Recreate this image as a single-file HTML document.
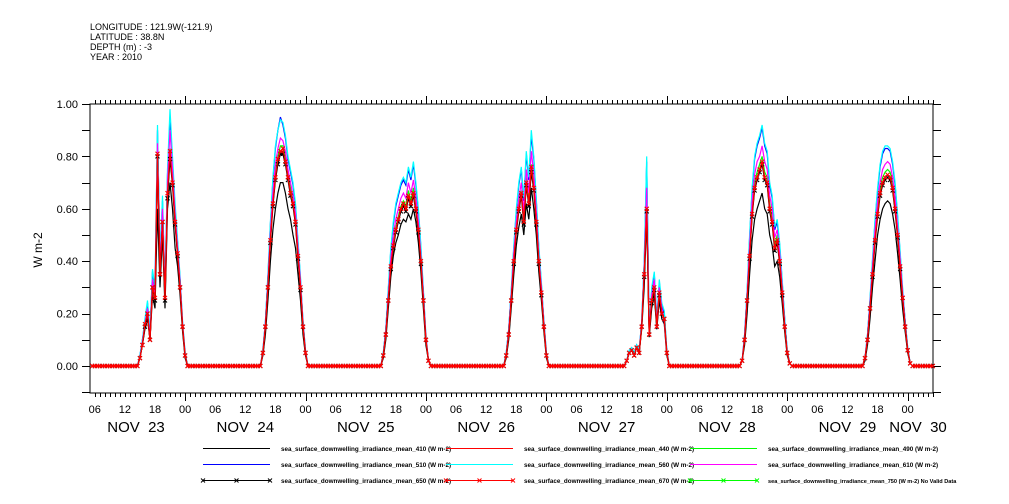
<!DOCTYPE html>
<html><head><meta charset="utf-8"><style>
html,body{margin:0;padding:0;background:#fff;}
svg{display:block;font-family:"Liberation Sans",sans-serif;}
</style></head><body>
<svg id="chart" width="1009" height="504" viewBox="0 0 1009 504" xmlns="http://www.w3.org/2000/svg">
<g font-size="9" fill="#000">
<text x="90" y="30">LONGITUDE : 121.9W(-121.9)</text>
<text x="90" y="40">LATITUDE : 38.8N</text>
<text x="90" y="50">DEPTH (m) : -3</text>
<text x="90" y="60">YEAR : 2010</text>
</g>
<g id="axes"></g>
<g id="series"></g>
<g id="legend"></g>
<text transform="translate(42,250) rotate(-90)" text-anchor="middle" font-size="12">W m-2</text>
</svg>
<script>
// Data: 30-minute values from 14:00 to 01:30 (next day) for each day Nov 23..29; zero elsewhere
const days = [23,24,25,26,27,28,29];
const yTicks = [0,0.2,0.4,0.6,0.8,1.0];
const yTickLabels = ["0.00","0.20","0.40","0.60","0.80","1.00"];
const dayLabels = ["NOV 23","NOV 24","NOV 25","NOV 26","NOV 27","NOV 28","NOV 29","NOV 30"];
const black410 = [
[0,0,.03,.08,.14,.18,.1,.27,.22,.6,.3,.5,.22,.6,.7,.6,.45,.38,.27,.13,.03,0,0,0],
[0,0,0,.04,.12,.25,.4,.52,.6,.66,.7,.7,.66,.6,.56,.5,.45,.35,.25,.12,.04,0,0,0],
[0,0,0,.03,.1,.22,.34,.42,.47,.5,.54,.56,.55,.58,.56,.6,.55,.47,.36,.22,.08,.02,0,0],
[0,0,0,0,.03,.1,.22,.35,.46,.53,.58,.5,.62,.56,.68,.6,.5,.36,.25,.13,.03,0,0,0],
[0,0,0,0,.02,.05,.06,.04,.07,.05,.14,.3,.58,.11,.22,.27,.14,.25,.18,.16,.04,0,0,0],
[0,0,.02,.08,.2,.35,.48,.56,.6,.63,.66,.6,.58,.5,.46,.38,.4,.34,.24,.13,.04,.01,0,0],
[0,0,0,.02,.08,.18,.3,.4,.5,.56,.6,.62,.63,.62,.58,.52,.43,.33,.22,.13,.05,.01,0,0]];
const red440 = [
[0,0,.03,.08,.15,.2,.1,.3,.25,.8,.35,.55,.25,.65,.8,.7,.55,.42,.3,.15,.04,0,0,0],
[0,0,0,.05,.15,.3,.48,.62,.72,.78,.82,.82,.78,.72,.66,.62,.55,.42,.3,.15,.05,0,0,0],
[0,0,0,.04,.12,.25,.38,.46,.52,.56,.6,.62,.6,.65,.62,.66,.6,.52,.4,.25,.1,.02,0,0],
[0,0,0,0,.04,.12,.25,.4,.52,.6,.66,.55,.7,.62,.75,.68,.55,.4,.28,.15,.04,0,0,0],
[0,0,0,0,.02,.05,.06,.04,.07,.05,.15,.35,.6,.12,.25,.3,.15,.28,.2,.18,.05,0,0,0],
[0,0,.02,.1,.25,.42,.58,.68,.72,.75,.78,.72,.7,.6,.55,.45,.48,.4,.28,.15,.05,.01,0,0],
[0,0,0,.03,.1,.22,.35,.48,.58,.66,.7,.72,.73,.72,.68,.6,.5,.38,.26,.15,.06,.01,0,0]];
const cyan560 = [
[0,0,.04,.1,.18,.25,.13,.37,.3,.92,.42,.65,.3,.75,.98,.8,.62,.48,.34,.17,.05,0,0,0],
[0,0,0,.06,.17,.35,.55,.72,.84,.9,.94,.93,.88,.8,.75,.7,.62,.48,.34,.17,.06,0,0,0],
[0,0,0,.05,.14,.3,.45,.55,.62,.66,.7,.72,.7,.76,.72,.78,.7,.6,.46,.29,.12,.02,0,0],
[0,0,0,0,.05,.14,.29,.46,.6,.7,.76,.64,.82,.72,.9,.8,.64,.46,.32,.17,.05,0,0,0],
[0,0,0,0,.02,.06,.07,.05,.08,.06,.17,.4,.8,.14,.3,.36,.18,.33,.24,.21,.06,0,0,0],
[0,0,.02,.12,.29,.5,.68,.8,.85,.88,.92,.85,.82,.7,.65,.53,.56,.47,.33,.18,.06,.01,0,0],
[0,0,0,.03,.12,.26,.41,.56,.68,.77,.82,.84,.84,.83,.78,.7,.58,.44,.3,.17,.07,.01,0,0]];
const blue510 = [
[0,0,.04,.1,.17,.24,.12,.36,.29,.9,.41,.63,.29,.73,.95,.78,.6,.47,.33,.16,.05,0,0,0],
[0,0,0,.06,.17,.34,.54,.71,.83,.9,.95,.92,.87,.79,.74,.69,.61,.47,.33,.17,.06,0,0,0],
[0,0,0,.05,.14,.29,.44,.54,.61,.65,.69,.71,.69,.75,.71,.77,.69,.59,.45,.28,.11,.02,0,0],
[0,0,0,0,.05,.14,.28,.45,.59,.69,.75,.63,.81,.71,.88,.79,.63,.45,.31,.17,.05,0,0,0],
[0,0,0,0,.02,.06,.07,.05,.08,.06,.17,.39,.78,.14,.29,.35,.18,.32,.23,.2,.06,0,0,0],
[0,0,.02,.12,.28,.49,.67,.79,.84,.87,.91,.84,.81,.69,.64,.52,.55,.46,.32,.18,.06,.01,0,0],
[0,0,0,.03,.12,.25,.4,.55,.67,.76,.81,.83,.83,.82,.77,.69,.57,.43,.29,.17,.07,.01,0,0]];
const magenta610 = [
[0,0,.03,.09,.16,.22,.11,.33,.27,.85,.38,.6,.28,.7,.9,.75,.58,.45,.32,.16,.04,0,0,0],
[0,0,0,.05,.16,.32,.51,.66,.77,.83,.87,.86,.82,.75,.7,.65,.58,.45,.32,.16,.05,0,0,0],
[0,0,0,.04,.13,.27,.41,.5,.56,.6,.64,.66,.64,.7,.66,.71,.64,.55,.42,.27,.11,.02,0,0],
[0,0,0,0,.04,.13,.27,.43,.55,.64,.7,.59,.75,.66,.82,.73,.59,.42,.3,.16,.04,0,0,0],
[0,0,0,0,.02,.05,.06,.04,.07,.05,.16,.37,.68,.13,.27,.33,.16,.3,.22,.17,.05,0,0,0],
[0,0,.02,.11,.27,.46,.63,.73,.78,.8,.84,.78,.75,.65,.6,.49,.52,.43,.3,.16,.05,.01,0,0],
[0,0,0,.03,.11,.24,.38,.52,.63,.7,.75,.77,.78,.77,.72,.64,.53,.41,.28,.16,.06,.01,0,0]];
const green490 = [
[0,0,.03,.08,.16,.21,.11,.31,.26,.82,.36,.57,.26,.67,.83,.72,.56,.43,.31,.15,.04,0,0,0],
[0,0,0,.05,.15,.31,.49,.63,.74,.8,.84,.84,.8,.73,.68,.63,.56,.43,.31,.15,.05,0,0,0],
[0,0,0,.04,.12,.26,.39,.47,.53,.57,.61,.63,.61,.67,.63,.68,.61,.53,.41,.26,.1,.02,0,0],
[0,0,0,0,.04,.12,.26,.41,.53,.62,.67,.56,.72,.63,.77,.7,.56,.41,.29,.15,.04,0,0,0],
[0,0,0,0,.02,.05,.06,.04,.07,.05,.15,.36,.62,.12,.26,.31,.15,.29,.21,.18,.05,0,0,0],
[0,0,.02,.1,.26,.43,.6,.7,.74,.77,.8,.74,.72,.62,.56,.46,.5,.41,.29,.15,.05,.01,0,0],
[0,0,0,.03,.1,.23,.36,.49,.6,.68,.72,.74,.75,.74,.7,.62,.51,.39,.27,.15,.06,.01,0,0]];
const black650 = [
[0,0,.03,.08,.15,.2,.1,.3,.25,.8,.35,.55,.25,.64,.79,.69,.54,.42,.3,.15,.04,0,0,0],
[0,0,0,.05,.15,.3,.47,.61,.71,.77,.81,.81,.77,.71,.65,.61,.54,.41,.29,.15,.05,0,0,0],
[0,0,0,.04,.12,.25,.37,.45,.51,.55,.59,.61,.59,.64,.61,.65,.59,.51,.39,.25,.1,.02,0,0],
[0,0,0,0,.04,.12,.25,.39,.51,.59,.65,.54,.69,.61,.74,.67,.54,.39,.27,.15,.04,0,0,0],
[0,0,0,0,.02,.05,.06,.04,.07,.05,.15,.34,.59,.12,.24,.29,.15,.27,.2,.18,.05,0,0,0],
[0,0,.02,.1,.25,.41,.57,.67,.71,.74,.77,.71,.69,.59,.54,.44,.47,.39,.27,.15,.05,.01,0,0],
[0,0,0,.03,.1,.22,.34,.47,.57,.65,.69,.71,.72,.71,.67,.59,.49,.37,.26,.15,.06,.01,0,0]];
const red670 = [
[0,0,.03,.08,.16,.2,.1,.3,.26,.81,.35,.55,.26,.66,.82,.7,.55,.43,.3,.15,.04,0,0,0],
[0,0,0,.05,.15,.3,.48,.62,.72,.79,.82,.83,.78,.72,.66,.62,.55,.42,.3,.15,.05,0,0,0],
[0,0,0,.04,.12,.25,.38,.46,.52,.56,.6,.62,.6,.65,.62,.66,.6,.52,.4,.25,.1,.02,0,0],
[0,0,0,0,.04,.12,.25,.4,.52,.6,.66,.55,.7,.62,.76,.68,.55,.4,.28,.15,.04,0,0,0],
[0,0,0,0,.02,.05,.06,.04,.07,.05,.15,.35,.6,.12,.25,.3,.15,.28,.2,.18,.05,0,0,0],
[0,0,.02,.1,.25,.42,.58,.68,.72,.75,.78,.72,.7,.6,.55,.45,.48,.4,.28,.15,.05,.01,0,0],
[0,0,0,.03,.1,.22,.35,.48,.58,.66,.7,.72,.73,.72,.68,.6,.5,.38,.26,.15,.06,.01,0,0]];

const NS="http://www.w3.org/2000/svg";
const L=90,R=933,T=104,B=393;
const H0=5.05, H1=173.05;
function X(h){return L+(h-H0)*(R-L)/(H1-H0);}
function Y(v){return 366-v*262;}
function mk(tag,attrs,parent){const e=document.createElementNS(NS,tag);for(const k in attrs)e.setAttribute(k,attrs[k]);parent.appendChild(e);return e;}
const axes=document.getElementById('axes');
const fr=mk('rect',{x:L,y:T,width:R-L,height:B-T,fill:'none',stroke:'#000','stroke-width':1},axes);


for(let h=6;h<=173;h++){
  const x=Math.round(X(h))+0.5;
  const major=(h%24===0);
  const len=major?8:4;
  const tb=mk('line',{x1:x,x2:x,y1:B,y2:B+len,stroke:'#000'},axes);
  
  
  const tt=mk('line',{x1:x,x2:x,y1:T,y2:T-len,stroke:'#000'},axes);
  
  
  if(h%6===0){
    const hl=mk('text',{x:X(h),y:413,'text-anchor':'middle','font-size':11},axes);
    hl.textContent=String(h%24).padStart(2,'0');
    
    
  }
}
dayLabels.forEach((d,i)=>{
  let x=X(i*24+12);
  if(i===0)x=136; if(i===7)x=918;
  const t=mk('text',{x:x,y:432,'text-anchor':'middle','font-size':15},axes);
  t.textContent=d.replace(' ','\u00a0\u00a0');
  
  
});
for(let k=-1;k<=10;k++){
  const v=k/10, y=Math.round(Y(v))+0.5;
  if(y<T-1||y>B)continue;
  const a=mk('line',{x1:L-8,x2:L,y1:y,y2:y,stroke:'#000'},axes);
  
  
  const b=mk('line',{x1:R,x2:R+8,y1:y,y2:y,stroke:'#000'},axes);
  
  
}
yTicks.forEach((v,i)=>{
  const t=mk('text',{x:78,y:Y(v)+4,'text-anchor':'end','font-size':11},axes);
  t.textContent=yTickLabels[i];
  
  
});
function build(arr){
  const pts=[];
  for(let h=H0+0.45;h<=H1;h+=0.5){
    const day=Math.floor((h-12)/24);
    let v=0;
    const idx=Math.round((h-(day*24+14))/0.5);
    if(day>=0&&day<arr.length&&idx>=0&&idx<24)v=arr[day][idx];
    pts.push([X(h),Y(v)]);
  }
  return pts;
}
const sg=document.getElementById('series');
const defs=[['series-410',black410,'#000',false],['series-490',green490,'#00ff00',false],['series-510',blue510,'#0000ff',false],['series-560',cyan560,'#00ffff',false],['series-610',magenta610,'#ff00ff',false],['series-440',red440,'#ff0000',false],['series-650',black650,'#000',true],['series-670',red670,'#ff0000',true]];
defs.forEach(([name,arr,col,marks])=>{
  const pts=build(arr);
  const g=mk('g',{},sg);
  
  
  const p=mk('polyline',{points:pts.map(q=>q[0].toFixed(1)+','+q[1].toFixed(1)).join(' '),fill:'none',stroke:col,'stroke-width':1.2},g);
  
  
  if(marks){
    let d='';
    pts.forEach(([x,y])=>{d+=`M${x-2},${y-2}L${x+2},${y+2}M${x-2},${y+2}L${x+2},${y-2}`;});
    const m=mk('path',{d:d,stroke:col,'stroke-width':1.1,fill:'none'},g);
    
    
  }
});
const lg=document.getElementById('legend');
const legendItems=[
 [203,448,'#000',false,'sea_surface_downwelling_irradiance_mean_410 (W m-2)'],
 [446,448,'#ff0000',false,'sea_surface_downwelling_irradiance_mean_440 (W m-2)'],
 [690,448,'#00ff00',false,'sea_surface_downwelling_irradiance_mean_490 (W m-2)'],
 [203,464,'#0000ff',false,'sea_surface_downwelling_irradiance_mean_510 (W m-2)'],
 [446,464,'#00ffff',false,'sea_surface_downwelling_irradiance_mean_560 (W m-2)'],
 [690,464,'#ff00ff',false,'sea_surface_downwelling_irradiance_mean_610 (W m-2)'],
 [203,480,'#000',true,'sea_surface_downwelling_irradiance_mean_650 (W m-2)'],
 [446,480,'#ff0000',true,'sea_surface_downwelling_irradiance_mean_670 (W m-2)'],
 [690,480,'#00ff00',true,'sea_surface_downwelling_irradiance_mean_750 (W m-2) No Valid Data']];
legendItems.forEach(([x,y,col,mkr,label],i)=>{
  const g=mk('g',{},lg);
  
  
  mk('line',{x1:x,x2:x+67,y1:y+0.5,y2:y+0.5,stroke:col,'stroke-width':1},g);
  if(mkr){[x,x+33.5,x+67].forEach(mx=>{mk('path',{d:`M${mx-2},${y-1.5}L${mx+2},${y+2.5}M${mx-2},${y+2.5}L${mx+2},${y-1.5}`,stroke:col,fill:'none'},g);});}
  const t=mk('text',{x:x+78,y:y+3,'font-size':i===8?5.6:6.3,'font-weight':'bold',fill:'#000'},g);
  t.textContent=label;
});
</script>
</body></html>
